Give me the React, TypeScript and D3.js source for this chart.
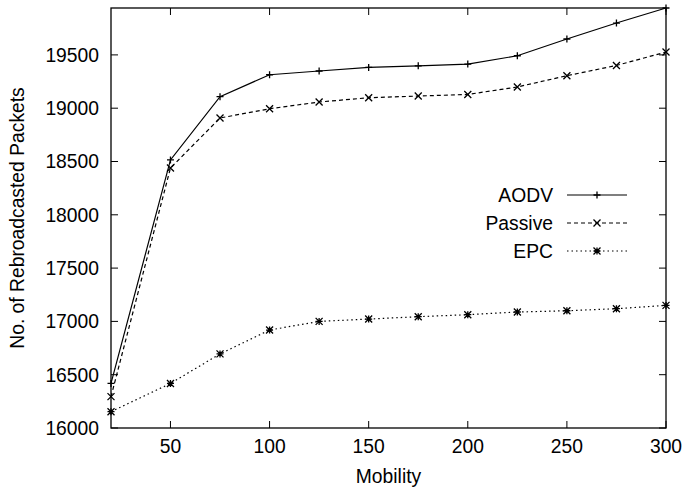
import React from "react";
import * as d3 from "d3";

const mobility = [20, 50, 75, 100, 125, 150, 175, 200, 225, 250, 275, 300];
const aodv = [16418, 18515, 19108, 19314, 19349, 19383, 19398, 19414, 19492, 19649, 19799, 19940];
const passive = [16294, 18439, 18908, 18995, 19058, 19098, 19114, 19129, 19199, 19305, 19401, 19527];
const epc = [16153, 16418, 16695, 16919, 17000, 17022, 17044, 17063, 17088, 17100, 17119, 17150];
const xTicks = [50, 100, 150, 200, 250, 300];
const yTicks = [16000, 16500, 17000, 17500, 18000, 18500, 19000, 19500];

const W = 684, H = 493;
const m = { left: 111, right: 18, top: 8, bottom: 65 };
const FONT = "'Liberation Sans', Arial, Helvetica, sans-serif";
const FS = 19.3;

type Marker = "plus" | "cross" | "star";

function markerPath(kind: Marker, x: number, y: number, r = 3.5) {
  const p = `M${x - r},${y}H${x + r}M${x},${y - r}V${y + r}`;
  const c = `M${x - r},${y - r}L${x + r},${y + r}M${x - r},${y + r}L${x + r},${y - r}`;
  if (kind === "plus") return p;
  if (kind === "cross") return c;
  return p + c;
}

export default function App() {
  const x = d3.scaleLinear().domain([20, 300]).range([m.left, W - m.right]);
  const y = d3.scaleLinear().domain([16000, 19940]).range([H - m.bottom, m.top]);
  const line = d3
    .line<number>()
    .x((_, i) => x(mobility[i]))
    .y((d) => y(d));

  const series = [
    { name: "AODV", values: aodv, dash: "none", marker: "plus" as Marker },
    { name: "Passive", values: passive, dash: "4,3", marker: "cross" as Marker },
    { name: "EPC", values: epc, dash: "1.5,3", marker: "star" as Marker },
  ];

  const x0 = m.left, x1 = W - m.right, y0 = H - m.bottom, y1 = m.top;
  const tick = 7;

  return (
    <svg width={W} height={H} style={{ position: "absolute", left: 0, top: 0, background: "#fff" }} fontFamily={FONT}>
      <rect x={0} y={0} width={W} height={H} fill="#fff" />
      {/* ticks, mirrored on all sides */}
      <g stroke="#000" strokeWidth={1}>
        {xTicks.map((t) => (
          <g key={"x" + t}>
            <line x1={x(t)} x2={x(t)} y1={y0} y2={y0 - tick} />
            <line x1={x(t)} x2={x(t)} y1={y1} y2={y1 + tick} />
          </g>
        ))}
        {yTicks.map((t) => (
          <g key={"y" + t}>
            <line x1={x0} x2={x0 + tick} y1={y(t)} y2={y(t)} />
            <line x1={x1} x2={x1 - tick} y1={y(t)} y2={y(t)} />
          </g>
        ))}
      </g>
      <rect x={x0} y={y1} width={x1 - x0} height={y0 - y1} fill="none" stroke="#000" strokeWidth={1.3} />
      <g fontSize={FS} fill="#000">
        {xTicks.map((t) => (
          <text key={"xl" + t} x={x(t)} y={453} textAnchor="middle">
            {t}
          </text>
        ))}
        {yTicks.map((t) => (
          <text key={"yl" + t} x={99} y={y(t) + 6.8} textAnchor="end">
            {t}
          </text>
        ))}
        <text x={(x0 + x1) / 2} y={483} textAnchor="middle">
          Mobility
        </text>
        <text transform={`translate(24,${(y0 + y1) / 2}) rotate(-90)`} textAnchor="middle">
          No. of Rebroadcasted Packets
        </text>
      </g>
      {series.map((s) => (
        <g key={s.name}>
          <path d={line(s.values) || ""} fill="none" stroke="#000" strokeWidth={1.2} strokeDasharray={s.dash} />
          <path
            d={s.values.map((v, i) => markerPath(s.marker, x(mobility[i]), y(v))).join("")}
            fill="none"
            stroke="#000"
            strokeWidth={1.3}
          />
        </g>
      ))}
      {/* legend */}
      <g fontSize={FS}>
        {series.map((s, i) => {
          const ly = 195 + i * 28;
          return (
            <g key={"lg" + s.name}>
              <text x={553} y={ly + 6.8} textAnchor="end">
                {s.name}
              </text>
              <line x1={567} x2={627} y1={ly} y2={ly} stroke="#000" strokeWidth={1.2} strokeDasharray={s.dash} />
              <path d={markerPath(s.marker, 597, ly)} stroke="#000" strokeWidth={1.3} fill="none" />
            </g>
          );
        })}
      </g>
    </svg>
  );
}
